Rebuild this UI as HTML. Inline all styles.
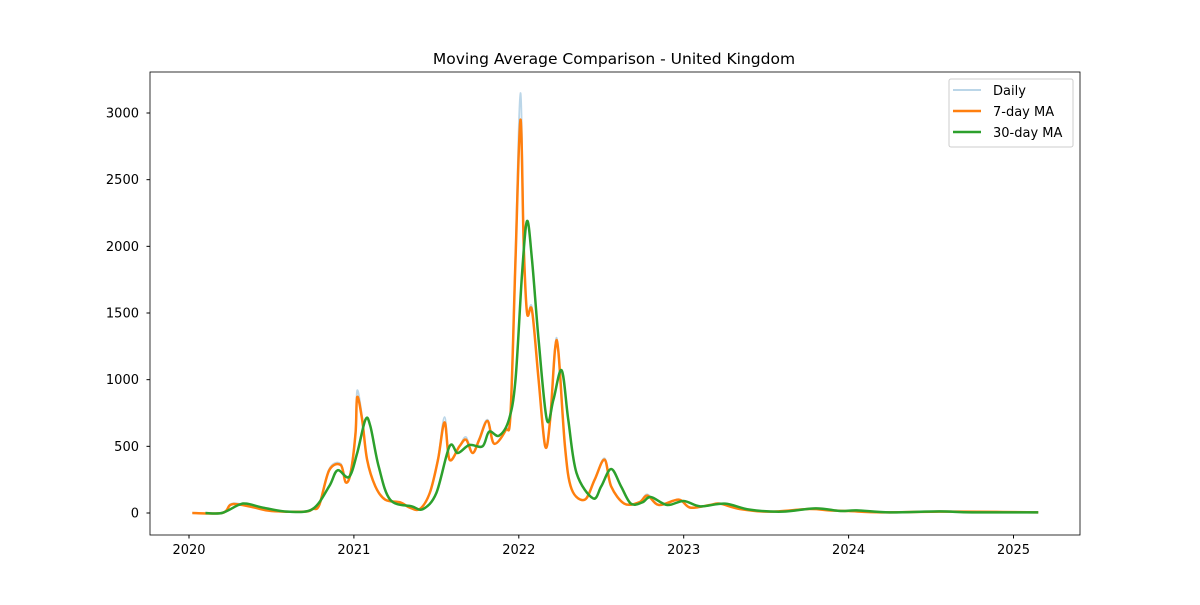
<!DOCTYPE html>
<html><head><meta charset="utf-8"><style>
body{margin:0;background:#fff}
svg text{font-family:"DejaVu Sans","Liberation Sans",sans-serif;fill:#000}
</style></head><body>
<svg id="chart" width="1200" height="600" xmlns="http://www.w3.org/2000/svg">
<rect x="0" y="0" width="1200" height="600" fill="#fff"/>
<text x="614" y="64" font-size="15.5" text-anchor="middle">Moving Average Comparison - United Kingdom</text>
<g id="plot"></g>
<rect x="150" y="72" width="930" height="463" fill="none" stroke="#000" stroke-width="0.8"/>
<g id="axes"></g>
<g>
<rect x="949" y="79" width="124" height="68" rx="2" fill="#fff" fill-opacity="0.8" stroke="#ccc"/>
<line x1="953" y1="90" x2="981" y2="90" stroke="#1f77b4" stroke-opacity="0.3" stroke-width="2"/>
<text x="993" y="95" font-size="13">Daily</text>
<line x1="953" y1="111" x2="981" y2="111" stroke="#ff7f0e" stroke-width="2.5"/>
<text x="993" y="116" font-size="13">7-day MA</text>
<line x1="953" y1="132" x2="981" y2="132" stroke="#2ca02c" stroke-width="2.5"/>
<text x="993" y="137" font-size="13">30-day MA</text>
</g>
</svg>
<script>
const t7=[2020.02,2020.2,2020.25,2020.3,2020.4,2020.5,2020.7,2020.75,2020.79,2020.85,2020.92,2020.95,2020.98,2021.01,2021.02,2021.05,2021.08,2021.13,2021.19,2021.28,2021.34,2021.4,2021.46,2021.51,2021.55,2021.58,2021.64,2021.68,2021.72,2021.76,2021.81,2021.85,2021.92,2021.95,2021.98,2022.01,2022.03,2022.05,2022.08,2022.12,2022.16,2022.19,2022.22,2022.24,2022.28,2022.32,2022.4,2022.46,2022.52,2022.56,2022.64,2022.73,2022.78,2022.85,2022.97,2023.04,2023.16,2023.22,2023.34,2023.52,2023.76,2023.88,2024.0,2024.2,2024.55,2024.9,2025.15];
const v7=[0,0,60,65,40,15,10,30,60,320,360,230,300,600,870,700,400,200,100,80,40,30,150,400,680,400,500,550,450,550,690,520,620,750,1900,2950,2000,1500,1520,1000,500,700,1230,1210,500,180,100,250,400,200,70,80,130,60,100,40,60,70,30,10,30,20,15,5,10,8,5];
const vDaily=[0,0,65,70,40,15,10,30,60,330,370,230,310,620,920,720,400,200,100,80,40,30,150,410,720,400,500,570,450,560,700,520,630,780,1950,3150,2000,1500,1540,1000,500,700,1250,1220,500,180,100,250,410,200,70,80,140,60,100,40,60,70,30,10,30,20,15,5,10,8,5];
const t30=[2020.1,2020.2,2020.3,2020.35,2020.45,2020.6,2020.75,2020.85,2020.9,2020.97,2021.02,2021.07,2021.1,2021.15,2021.22,2021.35,2021.42,2021.5,2021.58,2021.63,2021.7,2021.78,2021.82,2021.88,2021.94,2021.98,2022.02,2022.05,2022.08,2022.12,2022.17,2022.21,2022.26,2022.3,2022.35,2022.45,2022.5,2022.56,2022.62,2022.68,2022.75,2022.8,2022.9,2023.0,2023.1,2023.25,2023.4,2023.6,2023.8,2023.95,2024.05,2024.25,2024.55,2024.75,2025.15];
const v30=[0,0,60,70,40,10,30,200,320,270,450,700,650,350,100,50,30,150,500,450,510,500,610,580,700,1000,1800,2190,1900,1300,700,850,1070,700,300,110,200,330,200,70,80,120,60,90,50,70,25,10,35,15,20,5,12,5,5];
const yTicks=[0,500,1000,1500,2000,2500,3000];
const xTicks=[2020,2021,2022,2023,2024,2025];
const X=t=>189+(t-2020)*164.9, Y=v=>513-v*0.13333;
const NS="http://www.w3.org/2000/svg";
function path(ts,vs){const p=ts.map((t,i)=>[X(t),Y(vs[i])]);let d="M"+p[0][0]+","+p[0][1];
for(let i=0;i<p.length-1;i++){const a=p[i-1]||p[i],b=p[i],c=p[i+1],e=p[i+2]||c;
d+=` C${b[0]+(c[0]-a[0])/6},${b[1]+(c[1]-a[1])/6} ${c[0]-(e[0]-b[0])/6},${c[1]-(e[1]-b[1])/6} ${c[0]},${c[1]}`;}return d;}
const plot=document.getElementById('plot');
function addLine(ts,vs,col,w,op,name){const el=document.createElementNS(NS,'path');el.setAttribute('d',path(ts,vs));el.setAttribute('fill','none');el.setAttribute('stroke',col);el.setAttribute('stroke-width',w);el.setAttribute('stroke-opacity',op);el.setAttribute('stroke-linejoin','round');


plot.appendChild(el);}
addLine(t7,vDaily,'#1f77b4',1.8,0.3,'daily-line');
addLine(t7,v7,'#ff7f0e',2.5,1,'7-day-ma-line');
addLine(t30,v30,'#2ca02c',2.5,1,'30-day-ma-line');
const ax=document.getElementById('axes');
yTicks.forEach(v=>{const y=Y(v);const l=document.createElementNS(NS,'line');l.setAttribute('x1',146.5);l.setAttribute('x2',150);l.setAttribute('y1',y);l.setAttribute('y2',y);l.setAttribute('stroke','#000');


ax.appendChild(l);const tx=document.createElementNS(NS,'text');tx.setAttribute('x',139);tx.setAttribute('y',y+4.5);tx.setAttribute('text-anchor','end');tx.setAttribute('font-size','13');tx.textContent=v;


ax.appendChild(tx);});
xTicks.forEach(v=>{const x=X(v);const l=document.createElementNS(NS,'line');l.setAttribute('x1',x);l.setAttribute('x2',x);l.setAttribute('y1',535);l.setAttribute('y2',538.5);l.setAttribute('stroke','#000');


ax.appendChild(l);const tx=document.createElementNS(NS,'text');tx.setAttribute('x',x);tx.setAttribute('y',554);tx.setAttribute('text-anchor','middle');tx.setAttribute('font-size','13');tx.textContent=v;


ax.appendChild(tx);});
</script>
</body></html>
